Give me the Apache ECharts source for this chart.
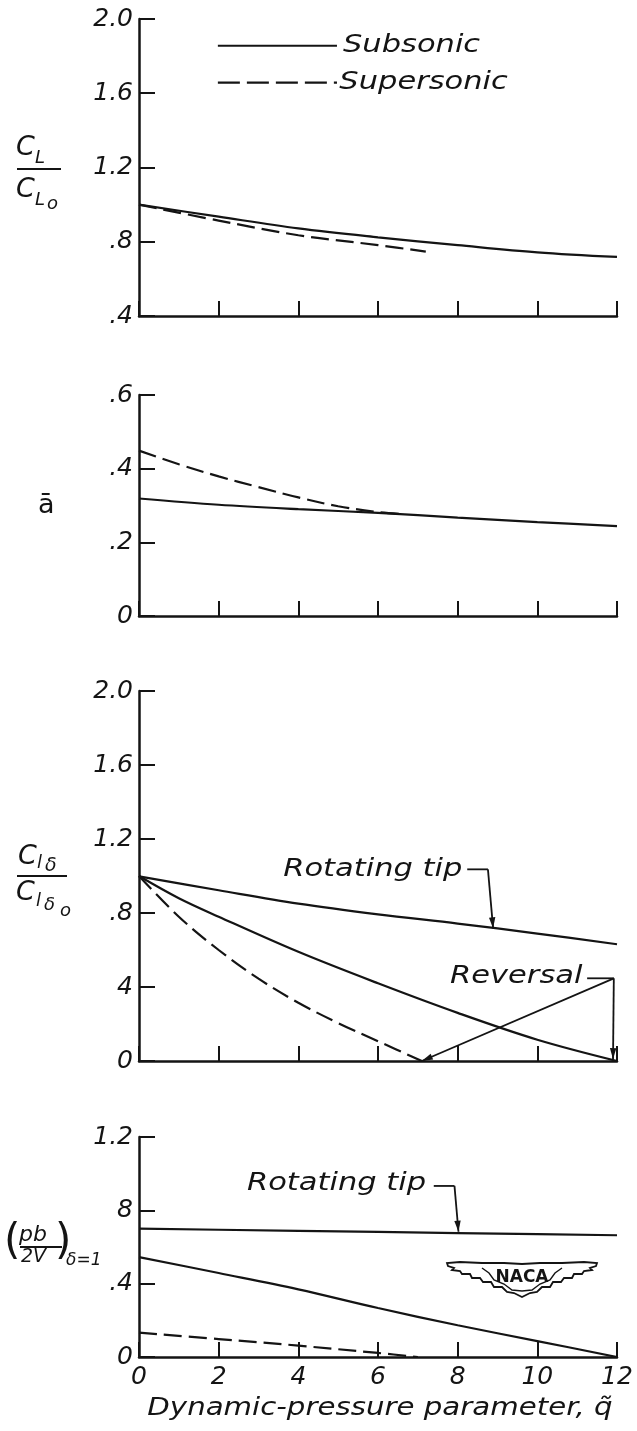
<!DOCTYPE html>
<html>
<head>
<meta charset="utf-8">
<script src="https://cdn.jsdelivr.net/npm/echarts@6/dist/echarts.min.js"></script>
<style>
  html, body { margin: 0; padding: 0; background: #ffffff; }
  #chart { width: 637px; height: 1431px; }
</style>
</head>
<body>
<div id="chart"></div>
<script>
// ---- data: dynamic-pressure parameter q~ and the four response curves ----
const q = [0, 2, 4, 6, 8, 10, 12];

// lift ratio CL/CLo
const liftSub = [1.0, 0.935, 0.872, 0.824, 0.782, 0.743, 0.718];
const liftSupQ = [0, 2, 4, 6, 7.2];
const liftSup = [1.0, 0.914, 0.835, 0.782, 0.747];

// a-bar
const abarSub = [0.319, 0.302, 0.290, 0.280, 0.267, 0.255, 0.244];
const abarSupQ = [0, 1, 2, 3, 4, 5, 6, 6.6];
const abarSup = [0.449, 0.412, 0.379, 0.350, 0.322, 0.298, 0.282, 0.277];

// rolling-moment effectiveness Clδ/Clδo
const clRot = [0.998, 0.923, 0.851, 0.793, 0.743, 0.689, 0.631];
const clSubQ = [0, 1, 2, 4, 6, 8, 10, 12];
const clSub = [1.0, 0.88, 0.78, 0.59, 0.42, 0.26, 0.115, 0.0];
const clSupQ = [0, 1, 2, 3, 4, 5, 6, 7.1];
const clSup = [1.0, 0.78, 0.60, 0.445, 0.315, 0.205, 0.107, 0.0];

// helix angle (pb/2V) for unit deflection
const pbRot = [0.700, 0.694, 0.688, 0.682, 0.676, 0.670, 0.664];
const pbSub = [0.545, 0.458, 0.369, 0.267, 0.173, 0.087, 0.0];
const pbSupQ = [0, 2, 4, 6, 7];
const pbSup = [0.133, 0.098, 0.062, 0.022, 0.0];

// tick labels
const xTickLabels = ['0', '2', '4', '6', '8', '10', '12'];
const yTicks1 = ['.4', '.8', '1.2', '1.6', '2.0'];
const yTicks2 = ['0', '.2', '.4', '.6'];
const yTicks3 = ['0', '4', '.8', '1.2', '1.6', '2.0'];
const yTicks4 = ['0', '.4', '8', '1.2'];

const xTitle = 'Dynamic-pressure parameter, q\u0303';
const seriesNames = ['Subsonic', 'Supersonic'];

// ---- styling ----
const INK = '#141414';
const FONT = 'DejaVu Sans';
const DASH = [18, 7];
const LW = 2.2;
const WIDE = 1.22;   // horizontal stretch for the lettering

const grids = [
  { left: 139, width: 478, top: 19, height: 297 },
  { left: 139, width: 478, top: 395, height: 221 },
  { left: 139, width: 478, top: 691, height: 370 },
  { left: 139, width: 478, top: 1137, height: 220 }
];

const yRanges = [
  { min: 0.4, max: 2.0, interval: 0.4, labels: yTicks1 },
  { min: 0, max: 0.6, interval: 0.2, labels: yTicks2 },
  { min: 0, max: 2.0, interval: 0.4, labels: yTicks3 },
  { min: 0, max: 1.2, interval: 0.4, labels: yTicks4 }
];

function pairs(xs, ys) { return xs.map((x, i) => [x, ys[i]]); }

const xAxes = grids.map((g, i) => ({
  type: 'value', gridIndex: i, min: 0, max: 12, interval: 2,
  axisLine: { lineStyle: { color: INK, width: 2.5 } },
  axisTick: { inside: true, length: 15, lineStyle: { color: INK, width: 2 } },
  splitLine: { show: false },
  axisLabel: {
    show: i === 3, margin: 8, color: INK, fontSize: 25, fontStyle: 'italic', fontFamily: FONT,
    formatter: v => xTickLabels[Math.round(v / 2)]
  }
}));

const yAxes = yRanges.map((r, i) => ({
  type: 'value', gridIndex: i, min: r.min, max: r.max, interval: r.interval,
  axisLine: { show: true, lineStyle: { color: INK, width: 2.5 } },
  axisTick: { show: true, inside: true, length: 16, lineStyle: { color: INK, width: 2 } },
  splitLine: { show: false },
  axisLabel: {
    margin: 6, color: INK, fontSize: 25, fontStyle: 'italic', fontFamily: FONT,
    formatter: v => r.labels[Math.round((v - r.min) / r.interval)]
  }
}));

function line(name, gi, data, dashed, smooth) {
  return {
    name, type: 'line', xAxisIndex: gi, yAxisIndex: gi, data,
    symbol: 'none', smooth: smooth === undefined ? 0.35 : smooth,
    lineStyle: { color: INK, width: LW, type: dashed ? DASH : 'solid' },
    itemStyle: { color: INK }, silent: true, z: 3
  };
}

const series = [
  line(seriesNames[0], 0, pairs(q, liftSub), false),
  line(seriesNames[1], 0, pairs(liftSupQ, liftSup), true),
  line(seriesNames[0], 1, pairs(q, abarSub), false),
  line(seriesNames[1], 1, pairs(abarSupQ, abarSup), true),
  line('Rotating tip', 2, pairs(q, clRot), false),
  line(seriesNames[0], 2, pairs(clSubQ, clSub), false),
  line(seriesNames[1], 2, pairs(clSupQ, clSup), true),
  line('Rotating tip', 3, pairs(q, pbRot), false, false),
  line(seriesNames[0], 3, pairs(q, pbSub), false),
  line(seriesNames[1], 3, pairs(pbSupQ, pbSup), true)
];

const chart = echarts.init(document.getElementById('chart'));
chart.setOption({
  animation: false,
  backgroundColor: '#ffffff',
  grid: grids,
  xAxis: xAxes,
  yAxis: yAxes,
  series
});

// ---- annotations: key, labels and leader arrows placed in data coordinates ----
const P = (gi, x, y) => chart.convertToPixel({ gridIndex: gi }, [x, y]);

function seg(a, b, dash, width) {
  return { type: 'line', shape: { x1: a[0], y1: a[1], x2: b[0], y2: b[1] },
           style: { stroke: INK, lineWidth: width || 1.8, lineDash: dash || null }, silent: true, z: 10 };
}
function head(tip, from) {
  const dx = tip[0] - from[0], dy = tip[1] - from[1];
  const L = Math.hypot(dx, dy), ux = dx / L, uy = dy / L;
  const len = 11, w = 3.2;
  const bx = tip[0] - ux * len, by = tip[1] - uy * len;
  return { type: 'polygon', shape: { points: [tip, [bx - uy * w, by + ux * w], [bx + uy * w, by - ux * w]] },
           style: { fill: INK }, silent: true, z: 10 };
}
function label(p, text, align) {
  return { type: 'text', x: p[0], y: p[1], scaleX: WIDE, silent: true, z: 10,
           style: { text, fill: INK, fontSize: 25, fontFamily: FONT, fontStyle: 'italic',
                    align: align || 'left', verticalAlign: 'middle' } };
}
function txt(x, y, text, size, style) {
  return { type: 'text', x, y, silent: true, z: 10,
           style: { text, fill: INK, fontSize: size, fontFamily: FONT, fontStyle: style || 'italic',
                    align: 'left', verticalAlign: 'middle' } };
}

const g = [];

// key for the two flow regimes
{
  const y1 = 1.856, y2 = 1.657;
  g.push(seg(P(0, 1.98, y1), P(0, 4.97, y1), null, LW));
  g.push(seg(P(0, 1.98, y2), P(0, 4.97, y2), [22, 7], LW));
  g.push(label(P(0, 5.12, y1), seriesNames[0]));
  g.push(label(P(0, 5.03, y2), seriesNames[1]));
}

// panel 3: rotating tip
{
  g.push(label(P(2, 3.62, 1.036), 'Rotating tip'));
  const a = P(2, 8.24, 1.036), b = P(2, 8.76, 1.036), c = P(2, 8.89, 0.717);
  g.push(seg(a, b), seg(b, c), head(c, b));
}
// panel 3: reversal
{
  g.push(label(P(2, 7.81, 0.458), 'Reversal'));
  const a = P(2, 11.25, 0.447), k = P(2, 11.92, 0.447);
  const d = P(2, 7.10, 0.0), v = P(2, 11.9, 0.01);
  g.push(seg(a, k), seg(k, d), head(d, k), seg(k, v), head(v, k));
}
// panel 4: rotating tip
{
  g.push(label(P(3, 2.71, 0.947), 'Rotating tip'));
  const a = P(3, 7.40, 0.933), b = P(3, 7.92, 0.933), c = P(3, 8.02, 0.683);
  g.push(seg(a, b), seg(b, c), head(c, b));
}

// horizontal axis title
{
  const p = P(3, 6, 0);
  g.push({ type: 'text', x: 380, y: p[1] + 51, scaleX: 1.17, silent: true, z: 10,
           style: { text: xTitle, fill: INK, fontSize: 25, fontFamily: FONT, fontStyle: 'italic',
                    align: 'center', verticalAlign: 'middle' } });
}

// y-axis titles
g.push(
  txt(16, 148, 'C', 27), txt(35, 158, 'L', 18),
  { type: 'line', shape: { x1: 17, y1: 169, x2: 61, y2: 169 }, style: { stroke: INK, lineWidth: 2 } },
  txt(16, 190, 'C', 27), txt(35, 200, 'L', 18), txt(47, 204, 'o', 18),

  txt(38, 506, '\u0101', 27, 'normal'),

  txt(18, 857, 'C', 27), txt(37, 863, 'l', 18), txt(45, 866, '\u03b4', 19),
  { type: 'line', shape: { x1: 17, y1: 876, x2: 67, y2: 876 }, style: { stroke: INK, lineWidth: 2 } },
  txt(16, 893, 'C', 27), txt(36, 901, 'l', 18), txt(44, 905, '\u03b4', 18), txt(60, 911, 'o', 18),

  txt(4, 1243, '(', 42, 'normal'),
  txt(19, 1235, 'pb', 22),
  { type: 'line', shape: { x1: 20, y1: 1247, x2: 62, y2: 1247 }, style: { stroke: INK, lineWidth: 2 } },
  txt(21, 1257, '2V', 19),
  txt(55, 1243, ')', 42, 'normal'),
  txt(66, 1261, '\u03b4=1', 17)
);

// NACA wings mark
{
  const cx = 522, top = 1264;
  const half = [[0, 0], [18, -1], [40, -1], [62, -2], [75, -1], [74, 2], [68, 4], [70, 6], [62, 7], [60, 10],
                [52, 10], [50, 14], [42, 14], [39, 18], [31, 18], [28, 23], [20, 23], [15, 28], [8, 29], [0, 33]];
  const pts = half.map(p => [cx + p[0], top + p[1]]);
  const left = half.slice().reverse().map(p => [cx - p[0], top + p[1]]);
  g.push({ type: 'polygon', shape: { points: pts.concat(left) }, style: { fill: '#fff', stroke: INK, lineWidth: 1.8 }, silent: true, z: 8 });
  const inner = [[-40, 4], [-33, 9], [-28, 16], [-18, 20], [-10, 26], [0, 27], [10, 26], [18, 20], [28, 16], [33, 9], [40, 4]]
    .map(p => [cx + p[0], top + p[1]]);
  g.push({ type: 'polyline', shape: { points: inner }, style: { stroke: INK, lineWidth: 1.4, fill: null }, silent: true, z: 9 });
  g.push({ type: 'text', x: cx, y: top + 14, silent: true, z: 10,
           style: { text: 'NACA', fill: INK, fontSize: 17, fontWeight: 'bold', fontFamily: FONT, align: 'center', verticalAlign: 'middle' } });
}

chart.setOption({ graphic: g });
</script>
</body>
</html>
